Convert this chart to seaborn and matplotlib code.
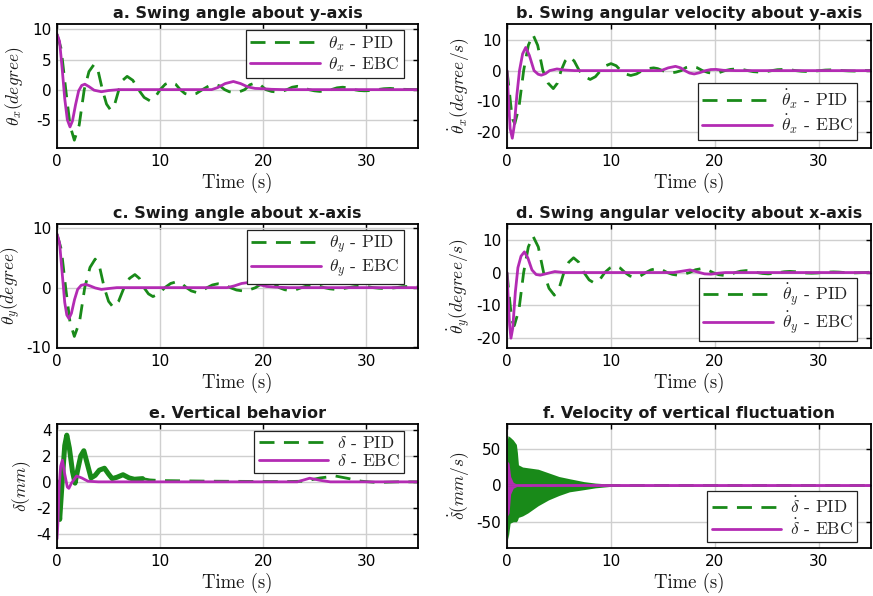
import matplotlib
matplotlib.use("Agg")
import matplotlib.pyplot as plt
import seaborn as sns
from matplotlib.lines import Line2D

# ---------------- data ----------------
# a. theta_x
t_a_pid = [0, 0.4, 0.85, 1.27, 1.68, 2.15, 2.64, 3.1, 3.6, 4.0, 4.4, 4.8, 5.2, 5.6, 6.0, 6.4, 6.8, 7.35, 7.9, 8.45, 9.0,
           9.5, 10.0, 10.5, 11.0, 11.5, 11.95, 12.4, 12.9, 13.5, 14.1, 14.7, 15.3, 15.8, 16.25, 16.7, 17.2, 17.7, 18.2,
           18.7, 19.2, 19.7, 20.25, 20.8, 21.3, 21.8, 22.3, 22.8, 23.3, 23.85, 24.4, 24.95, 25.5, 26.05, 26.6, 27.15,
           27.7, 28.2, 28.75, 29.3, 29.8, 30.4, 31.05, 31.7, 32.3, 33.5, 35]
y_a_pid = [9.2, 6.8, 0, -6.0, -8.4, -5.9, 0, 3.0, 4.2, 3.0, 0, -2.4, -3.4, -2.4, 0, 1.6, 2.2, 1.55, 0, -1.3, -1.85,
           -1.3, 0, 0.9, 1.25, 0.9, 0, -0.65, -0.9, -0.65, 0, 0.6, 0.85, 0.6, 0, -0.35, -0.5, -0.35, 0,
           0.8, 1.1, 0.8, 0, -0.3, -0.4, -0.3, 0, 0.4, 0.55, 0.4, 0, -0.2, -0.3, -0.2, 0, 0.3,
           0.4, 0.3, 0, -0.15, -0.2, -0.15, 0, 0.15, 0.2, 0.05, 0]
t_a_ebc = [0, 0.25, 0.5, 0.75, 1.0, 1.26, 1.5, 1.8, 2.1, 2.4, 2.7, 3.1, 3.6, 4.3, 5.0, 6.0, 15.0, 15.6, 16.3, 17.1,
           17.8, 18.5, 19.2, 20.0, 20.8, 22.0, 35]
y_a_ebc = [9.2, 8.0, 3.5, -1.5, -5.0, -6.2, -5.2, -2.5, -0.2, 0.7, 0.9, 0.5, -0.1, -0.35, -0.15, 0, 0, 0.35, 1.0, 1.35,
           1.0, 0.45, 0.2, 0.15, 0.05, 0, 0]

# b. theta_x dot
t_b_pid = [0, 0.2, 0.4, 0.55, 0.75, 1.15, 1.6, 2.05, 2.5, 2.95, 3.45, 3.95, 4.45, 4.85, 5.2, 5.6, 5.95, 6.45, 6.95,
           7.5, 8.0, 8.5, 9.0, 9.5, 10.0, 10.5, 10.95, 11.4, 11.9, 12.45, 13.0, 13.55, 14.1, 14.5, 14.95, 15.4, 15.8,
           16.25, 16.75, 17.2, 17.7, 18.25, 18.8, 19.35, 19.9, 20.4, 20.95, 21.5, 22.0, 22.6, 23.15, 23.7, 24.3, 24.9,
           25.45, 26.0, 26.6, 27.2, 27.75, 28.3, 28.9, 29.5, 30.05, 30.6, 31.2, 31.75, 32.3, 32.85, 33.4, 34.2, 35]
y_b_pid = [0, -6, -12.5, -16, -17.4, -12, 0, 8.3, 11.8, 8.3, 0, -4.1, -5.9, -4.1, 0, 3.2, 4.6, 3.2, 0,
           -2.0, -2.9, -2.0, 0, 1.6, 2.3, 1.6, 0, -1.1, -1.6, -1.1, 0, 0.65, 0.9, 0.65, 0, -0.5, -0.75,
           -0.5, 0, 1.0, 1.4, 1.0, 0, -0.65, -0.9, -0.65, 0, 0.4, 0.55, 0.4, 0, -0.35, -0.5, -0.35,
           0, 0.3, 0.4, 0.3, 0, -0.2, -0.3, -0.2, 0, 0.18, 0.25, 0.18, 0, -0.1, -0.15, 0, 0.05]
t_b_ebc = [0, 0.15, 0.3, 0.51, 0.7, 0.95, 1.2, 1.5, 1.8, 2.15, 2.6, 3.0, 3.3, 3.7, 4.1, 4.8, 5.5, 6.5, 14.8, 15.5,
           16.2, 16.7, 17.1, 17.55, 18.0, 18.5, 19.1, 19.6, 20.1, 20.8, 22, 35]
y_b_ebc = [0, -10, -19, -22.2, -18, -8, 0, 5.5, 7.6, 5.0, 0, -1.2, -1.5, -1.0, 0, 0.55, 0.2, 0, 0, 0.9,
           1.4, 0.9, 0, -0.8, -1.1, -0.7, 0, 0.35, 0.4, 0.1, 0, 0]

# c. theta_y
t_c_pid = [0, 0.42, 0.84, 1.26, 1.68, 2.18, 2.69, 3.2, 3.7, 4.14, 4.58, 5.0, 5.45, 5.97, 6.5, 7.02, 7.55, 7.99, 8.43,
           8.87, 9.3, 9.87, 10.45, 11.02, 11.6, 12.07, 12.55, 13.02, 13.5, 14.02, 14.55, 15.07, 15.6, 16.2, 16.8,
           17.4, 18.0, 18.62, 19.25, 19.87, 20.5, 21.02, 21.55, 22.07, 22.6, 23.15, 23.7, 24.25, 24.8, 25.35, 25.9,
           26.45, 27.0, 27.62, 28.25, 28.87, 29.5, 30.07, 30.65, 31.22, 31.8, 32.35, 32.9, 33.45, 34.0, 35]
y_c_pid = [9.0, 6.4, 0, -5.8, -8.2, -5.8, 0, 3.4, 4.8, 3.4, 0, -2.3, -3.3, -2.3, 0, 1.55, 2.2, 1.55, 0,
           -1.05, -1.5, -1.05, 0, 0.7, 1.0, 0.7, 0, -0.55, -0.8, -0.55, 0, 0.45, 0.65, 0.45, 0,
           -0.4, -0.55, -0.4, 0, 0.7, 1.0, 0.7, 0, -0.35, -0.5, -0.35, 0, 0.3, 0.45, 0.3, 0,
           -0.2, -0.3, -0.2, 0, 0.18, 0.25, 0.18, 0, -0.1, -0.15, -0.1, 0, 0.15, 0.2, 0.1]
t_c_ebc = [0, 0.25, 0.5, 0.75, 0.95, 1.16, 1.4, 1.7, 2.0, 2.35, 2.77, 3.2, 3.7, 4.3, 5.0, 5.8, 16.5, 17.2, 17.9, 18.7,
           19.4, 20.3, 21.2, 22.5, 35]
y_c_ebc = [9.0, 7.5, 2.5, -2.5, -4.6, -5.2, -4.3, -2.0, -0.3, 0.4, 0.55, 0.3, -0.05, -0.3, -0.15, 0, 0, 0.3, 0.7, 0.9,
           0.6, 0.2, 0.08, 0, 0]

# d. theta_y dot
t_d_pid = [0, 0.18, 0.36, 0.52, 0.7, 1.15, 1.6, 2.05, 2.5, 3.01, 3.52, 4.04, 4.55, 5.01, 5.47, 5.94, 6.4, 6.9, 7.4,
           7.9, 8.4, 8.9, 9.4, 9.9, 10.4, 10.87, 11.35, 11.82, 12.3, 12.82, 13.35, 13.87, 14.4, 14.9, 15.4, 15.9,
           16.4, 16.97, 17.55, 18.12, 18.7, 19.25, 19.8, 20.35, 20.9, 21.42, 21.95, 22.47, 23.0, 23.52, 24.05,
           24.57, 25.1, 25.62, 26.15, 26.67, 27.2, 27.72, 28.25, 28.77, 29.3, 29.82, 30.35, 30.87, 31.4, 31.92,
           32.45, 32.97, 33.5, 34.3, 35]
y_d_pid = [0, -6, -11.5, -15, -16.2, -11.3, 0, 7.8, 11.1, 7.8, 0, -4.8, -6.9, -4.8, 0, 3.15, 4.5, 3.15, 0,
           -2.25, -3.2, -2.25, 0, 1.4, 2.0, 1.4, 0, -1.05, -1.5, -1.05, 0, 0.85, 1.2, 0.85, 0, -0.55,
           -0.8, -0.55, 0, 0.85, 1.2, 0.85, 0, -0.65, -0.9, -0.65, 0, 0.42, 0.6, 0.42, 0,
           -0.28, -0.4, -0.28, 0, 0.25, 0.35, 0.25, 0, -0.14, -0.2, -0.14, 0, 0.14, 0.2, 0.14,
           0, -0.07, -0.1, 0, 0.1]
t_d_ebc = [0, 0.12, 0.25, 0.38, 0.55, 0.8, 1.05, 1.35, 1.67, 2.0, 2.4, 2.8, 3.2, 3.7, 4.6, 5.5, 16.0, 16.8, 17.6, 18.4,
           19.0, 19.6, 20.3, 21.0, 35]
y_d_ebc = [0, -8, -16, -20, -17, -6, 1.5, 5.0, 6.3, 4.5, 0.8, -0.6, -0.8, -0.4, 0.3, 0, 0, 0.4, 0.8, 0.1,
           -0.4, -0.5, -0.2, 0, 0]

# e. delta
t_e_pid = [0, 0.1, 0.26, 0.5, 0.75, 0.95, 1.2, 1.5, 1.75, 2.0, 2.3, 2.6, 2.9, 3.3, 3.7, 4.1, 4.6, 5.0, 5.35, 5.8,
           6.4, 7.0, 7.5, 8.3, 9.0, 10.0, 15.0, 22.0, 24.0, 25.5, 27.0, 28.3, 29.5, 31.0, 33.0, 35]
y_e_pid = [0, -1.0, -2.9, 0.0, 2.8, 3.6, 2.6, 0.8, -0.1, 0.9, 2.0, 2.4, 1.5, 0.3, 0.5, 0.9, 1.05, 0.6, 0.25, 0.35,
           0.55, 0.3, 0.2, 0.25, 0.15, 0.1, 0.05, 0.02, 0.05, 0.3, 0.45, 0.25, 0.05, -0.05, 0.0, 0]
t_e_ebc = [0, 0.1, 0.2, 0.35, 0.52, 0.75, 1.0, 1.15, 1.4, 1.9, 2.4, 3.0, 4.0, 23.3, 24.5, 25.5, 26.5, 35]
y_e_ebc = [-4.4, -3.0, -0.5, 1.2, 1.67, 0.6, -0.4, -0.5, -0.1, 0.45, 0.3, 0.05, 0, 0, 0.28, 0.12, 0, 0]
e_pid_jitter_end = 8.3   # PID trace is thickened by fast jitter up to here

# f. delta dot (fast oscillation -> envelope)
t_f_pid = [0, 0.1, 0.3, 0.6, 0.9, 1.0, 1.1, 1.5, 2.0, 3.0, 4.0, 5.0, 6.0, 7.4, 8.5, 10.0, 12.0, 35]
f_pid_upper = [60, 68, 66, 62, 56, 45, 28, 25, 24, 22, 17, 12, 9, 5, 3, 1.5, 1.0, 0.6]
f_pid_lower = [-60, -74, -52, -50, -50, -48, -44, -42, -38, -28, -20, -14, -9, -6, -3.5, -1.5, -1.0, -0.6]
t_f_ebc = [0, 0.05, 0.2, 0.35, 0.6, 1.0, 35]
f_ebc_upper = [20, 33, 30, 12, 4, 1.2, 1.0]
f_ebc_lower = [-20, -42, -38, -12, -4, -1.2, -1.0]
t_f_mean = [0, 35]
y_f_pid = [0, 0]
y_f_ebc = [0, 0]

titles = ["a. Swing angle about y-axis", "b. Swing angular velocity about y-axis",
          "c. Swing angle about x-axis", "d. Swing angular velocity about x-axis",
          "e. Vertical behavior", "f. Velocity of vertical fluctuation"]
ylabels = [r"$\theta_x(degree)$", r"$\dot{\theta}_x(degree/s)$",
           r"$\theta_y(degree)$", r"$\dot{\theta}_y(degree/s)$",
           r"$\delta(mm)$", r"$\dot{\delta}(mm/s)$"]
legend_syms = [r"$\theta_x$", r"$\dot{\theta}_x$", r"$\theta_y$", r"$\dot{\theta}_y$", r"$\delta$", r"$\dot{\delta}$"]
yticks = [[-5, 0, 5, 10], [-20, -10, 0, 10], [-10, 0, 10], [-20, -10, 0, 10], [-4, -2, 0, 2, 4], [-50, 0, 50]]
xticks = [0, 10, 20, 30]
xlabel = "Time (s)"

# ---------------- style ----------------
sns.set_theme(style="whitegrid")
plt.rcParams.update({
    "font.family": ["DejaVu Sans"],
    "mathtext.fontset": "cm",
    "axes.unicode_minus": False,
    "axes.edgecolor": "black",
    "axes.linewidth": 1.3,
    "grid.color": "#cfcfcf",
    "grid.linewidth": 1.0,
    "axes.facecolor": "white",
})

GREEN = "#198a19"
MAGENTA = "#b32bb3"
LW = 2.0
DASH = (5.4, 3.4)

W, H = 873, 596
fig = plt.figure(figsize=(W / 100, H / 100), dpi=100)
cols = [(57, 361), (507, 364)]
rows = [(24, 148), (224, 348), (424, 548)]
ylims = [(-9.7, 10.9), (-25.4, 15.3), (-10.15, 10.7), (-23, 14.8), (-5.1, 4.46), (-86, 84)]
ylab_x = [-0.085, -0.097, -0.094, -0.097, -0.066, -0.097]
leg_pos = [("upper right", (0.961, 0.952)), ("lower right", (0.9615, 0.064)),
           ("upper right", (0.961, 0.954)), ("lower right", (0.9615, 0.059)),
           ("upper right", (0.961, 0.944)), ("lower right", (0.9615, 0.048))]


def line(ax, t, y, color, lw, dashed):
    sns.lineplot(x=t, y=y, ax=ax, color=color, linewidth=lw, estimator=None, sort=False, legend=False)
    ln = ax.lines[-1]
    if dashed:
        ln.set_dashes(DASH)
    ln.set_solid_joinstyle("round")
    ln.set_solid_capstyle("round")
    return ln


series = [(t_a_pid, y_a_pid, t_a_ebc, y_a_ebc), (t_b_pid, y_b_pid, t_b_ebc, y_b_ebc),
          (t_c_pid, y_c_pid, t_c_ebc, y_c_ebc), (t_d_pid, y_d_pid, t_d_ebc, y_d_ebc),
          (t_e_pid, y_e_pid, t_e_ebc, y_e_ebc), None]

for i in range(6):
    r, c = divmod(i, 2)
    left, width = cols[c]
    top, bottom = rows[r]
    ax = fig.add_axes([left / W, 1 - bottom / H, width / W, (bottom - top) / H])
    ax.set_axisbelow(True)

    if series[i] is not None:
        tp, yp, te, ye = series[i]
        line(ax, tp, yp, GREEN, LW, True)
        if i == 4:
            n = sum(1 for v in tp if v <= e_pid_jitter_end)
            line(ax, tp[:n], yp[:n], GREEN, 3.6, False)
        line(ax, te, ye, MAGENTA, LW, False)
    else:
        ax.fill_between(t_f_pid, f_pid_lower, f_pid_upper, color=GREEN, linewidth=0)
        line(ax, t_f_mean, y_f_pid, GREEN, LW, True)
        ax.fill_between(t_f_ebc, f_ebc_lower, f_ebc_upper, color=MAGENTA, linewidth=0)
        line(ax, t_f_mean, y_f_ebc, MAGENTA, LW, False)

    ax.set_xlim(0, 35)
    ax.set_ylim(*ylims[i])
    ax.set_xticks(xticks)
    ax.set_yticks(yticks[i])
    ax.grid(True, which="major")
    for s in ax.spines.values():
        s.set_visible(True)
        s.set_color("black")
        s.set_linewidth(1.3)
    ax.tick_params(direction="in", length=3.5, width=1.0, top=True, right=True,
                   labelsize=11, pad=4, colors="black")
    ax.set_title(titles[i], fontsize=11.5, fontweight="bold", pad=4, color="#1a1a1a")
    ax.set_xlabel(xlabel, fontfamily="cmr10", fontsize=13.5, color="#1a1a1a")
    ax.xaxis.set_label_coords(0.5, -0.2)
    ax.set_ylabel(ylabels[i], fontsize=12.5, color="#1a1a1a")
    ax.yaxis.set_label_coords(ylab_x[i], 0.5)

    handles = [Line2D([], [], color=GREEN, lw=LW, dashes=DASH),
               Line2D([], [], color=MAGENTA, lw=LW)]
    labels = [legend_syms[i] + " - PID", legend_syms[i] + " - EBC"]
    loc, anchor = leg_pos[i]
    leg = ax.legend(handles, labels, loc=loc, bbox_to_anchor=anchor, borderaxespad=0,
                    prop={"family": "cmr10", "size": 12.5}, frameon=True, fancybox=False,
                    framealpha=1, edgecolor="#222222", handlelength=4.0, handletextpad=0.5,
                    labelspacing=0.1, borderpad=0.25)
    leg.get_frame().set_linewidth(0.9)

fig.savefig("out.png", dpi=100, facecolor="white")
